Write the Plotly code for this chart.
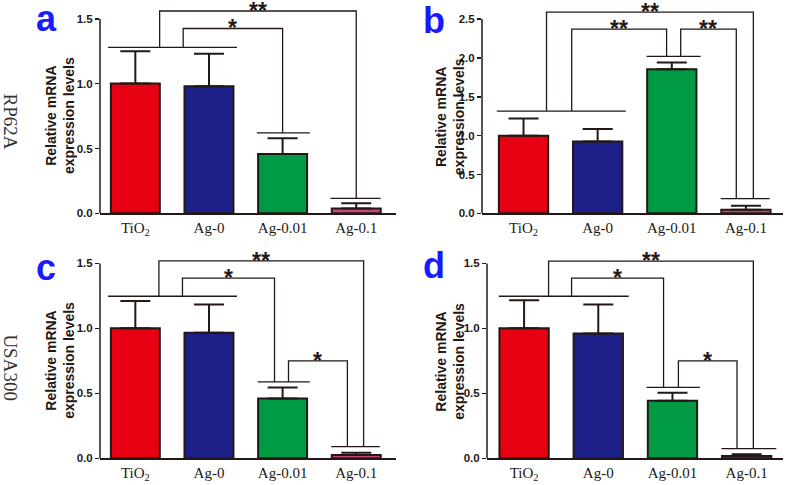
import plotly.graph_objects as go

# ---------------- data ----------------
categories = ["TiO<sub>2</sub>", "Ag-0", "Ag-0.01", "Ag-0.1"]
bar_colors = ["#e60012", "#1d2088", "#009944", "#c9457f"]

# panel a: RP62A, gene 1
a_mean = [1.00, 0.98, 0.457, 0.038]
a_err = [0.25, 0.25, 0.122, 0.040]
# panel b: RP62A, gene 2
b_mean = [1.00, 0.924, 1.855, 0.047]
b_err = [0.22, 0.16, 0.085, 0.051]
# panel c: USA300, gene 1
c_mean = [1.00, 0.966, 0.46, 0.025]
c_err = [0.21, 0.218, 0.085, 0.018]
# panel d: USA300, gene 2
d_mean = [1.00, 0.96, 0.443, 0.018]
d_err = [0.217, 0.224, 0.061, 0.012]

y_tick_max = {"a": 1.5, "b": 2.5, "c": 1.5, "d": 1.5}

# significance: group caps (x0, x1, y) and brackets (xL, yL, xR, yR, top, label)
a_caps = [(-0.37, 1.38, 1.28), (1.65, 2.37, 0.62), (2.65, 3.33, 0.115)]
a_brackets = [(0.65, 1.28, 2.0, 0.62, 1.425, "*"),
              (0.33, 1.28, 3.0, 0.115, 1.56, "**")]
b_caps = [(-0.36, 1.38, 1.316), (1.66, 2.39, 2.02), (2.66, 3.32, 0.19)]
b_brackets = [(0.65, 1.316, 1.93, 2.02, 2.37, "**"),
              (2.12, 2.02, 2.87, 0.19, 2.37, "**"),
              (0.31, 1.316, 3.10, 0.19, 2.59, "**")]
c_caps = [(-0.37, 1.38, 1.247), (1.66, 2.37, 0.588), (2.66, 3.32, 0.089)]
c_brackets = [(0.64, 1.247, 1.89, 0.588, 1.386, "*"),
              (2.08, 0.588, 2.88, 0.089, 0.75, "*"),
              (0.32, 1.247, 3.10, 0.089, 1.52, "**")]
d_caps = [(-0.34, 1.41, 1.247), (1.65, 2.37, 0.545), (2.66, 3.40, 0.074)]
d_brackets = [(0.64, 1.247, 1.88, 0.545, 1.386, "*"),
              (2.08, 0.545, 2.87, 0.074, 0.75, "*"),
              (0.33, 1.247, 3.09, 0.074, 1.518, "**")]

row_labels = ["RP62A", "USA300"]
y_title = "Relative mRNA<br>expression levels"

# ---------------- layout helpers ----------------
W, H = 787, 485
DARK = "#231815"


def fx(p):
    return p / W


def fy(p):
    return 1 - p / H


panels = [
    dict(key="a", mean=a_mean, err=a_err, caps=a_caps, br=a_brackets,
         xl=100, xr=396, xrange=[-0.48, 3.54], y0=216, yt=19, top=2,
         title_x=60, letter=(46, 19)),
    dict(key="b", mean=b_mean, err=b_err, caps=b_caps, br=b_brackets,
         xl=482, xr=783, xrange=[-0.56, 3.50], y0=216, yt=19.3, top=2,
         title_x=450, letter=(434, 21)),
    dict(key="c", mean=c_mean, err=c_err, caps=c_caps, br=c_brackets,
         xl=100, xr=396, xrange=[-0.48, 3.54], y0=464, yt=266.7, top=250,
         title_x=60, letter=(46, 271)),
    dict(key="d", mean=d_mean, err=d_err, caps=d_caps, br=d_brackets,
         xl=487, xr=783, xrange=[-0.50, 3.49], y0=464, yt=266.7, top=250,
         title_x=450, letter=(434, 269)),
]

fig = go.Figure()
annotations = []
shapes = []
xpos = list(range(len(categories)))

for i, p in enumerate(panels):
    n = "" if i == 0 else str(i + 1)
    xa, ya = "x" + n, "y" + n
    tmax = y_tick_max[p["key"]]
    scale = (p["y0"] - p["yt"]) / tmax
    ytop = (p["y0"] - p["top"]) / scale

    fig.add_trace(go.Bar(
        x=xpos, y=p["mean"], width=0.665,
        marker=dict(color=bar_colors, line=dict(color=DARK, width=2)),
        error_y=dict(type="data", array=p["err"], arrayminus=[0] * 4,
                     symmetric=False, color=DARK, thickness=2, width=15),
        xaxis=xa, yaxis=ya, showlegend=False, hoverinfo="skip"))

    for (x0, x1, y) in p["caps"]:
        fig.add_trace(go.Scatter(
            x=[x0, x1], y=[y, y], mode="lines",
            line=dict(color=DARK, width=1.3),
            xaxis=xa, yaxis=ya, showlegend=False, hoverinfo="skip"))
    for (xL, yL, xR, yR, top, lab) in p["br"]:
        fig.add_trace(go.Scatter(
            x=[xL, xL, xR, xR], y=[yL, top, top, yR], mode="lines",
            line=dict(color=DARK, width=1.3),
            xaxis=xa, yaxis=ya, showlegend=False, hoverinfo="skip"))
        annotations.append(dict(
            x=(xL + xR) / 2, y=top, xref=xa, yref=ya, text=lab,
            showarrow=False, yanchor="middle", xanchor="center", yshift=0,
            font=dict(family="Liberation Sans, Arial", size=23,
                      color=DARK, weight="bold")))

    dom_x = [fx(p["xl"]), fx(p["xr"])]
    dom_y = [fy(p["y0"]), fy(p["top"])]
    fig.update_layout(**{
        ("xaxis" + n): dict(
            domain=dom_x, range=p["xrange"], anchor=ya,
            tickmode="array", tickvals=xpos, ticktext=categories,
            showline=True, linecolor=DARK, linewidth=1.5, ticks="",
            showgrid=False, zeroline=False,
            tickfont=dict(family="Liberation Serif, Times New Roman",
                          size=15, color=DARK)),
        ("yaxis" + n): dict(
            domain=dom_y, range=[0, ytop], anchor=xa,
            tickmode="array",
            tickvals=[k * 0.5 for k in range(int(round(tmax / 0.5)) + 1)],
            tickformat=".1f", showline=False, ticks="outside", ticklen=4,
            tickwidth=1.5, tickcolor=DARK, showgrid=False, zeroline=False,
            tickfont=dict(family="Liberation Sans, Arial", size=11.5,
                          color=DARK, weight="bold")),
    })
    shapes.append(dict(type="line", xref=xa + " domain", yref=ya,
                       x0=0, x1=0, y0=0, y1=tmax,
                       line=dict(color=DARK, width=1.5)))
    annotations.append(dict(
        x=fx(p["title_x"]), y=fy((p["y0"] + p["yt"]) / 2), xref="paper",
        yref="paper", text=y_title, textangle=-90, showarrow=False,
        xanchor="center", yanchor="middle",
        font=dict(family="Liberation Sans, Arial", size=14, color=DARK,
                  weight="bold")))
    annotations.append(dict(
        x=fx(p["letter"][0]), y=fy(p["letter"][1]), xref="paper", yref="paper",
        text=p["key"], showarrow=False, xanchor="center", yanchor="middle",
        font=dict(family="Liberation Sans, Arial", size=36, color="#1a1aff",
                  weight="bold")))

for lab, ypx in zip(row_labels, [123, 372]):
    annotations.append(dict(
        x=fx(11), y=fy(ypx), xref="paper", yref="paper", text=lab,
        textangle=90, showarrow=False, xanchor="center", yanchor="middle",
        font=dict(family="Liberation Serif, Times New Roman", size=19,
                  color="#333333")))

fig.update_layout(
    width=W, height=H, margin=dict(l=0, r=0, t=0, b=0),
    paper_bgcolor="white", plot_bgcolor="white",
    annotations=annotations, shapes=shapes, bargap=0,
)

fig.write_html("out.html",
               config={"displayModeBar": False, "staticPlot": True},
               post_script="document.body.style.margin='0';"
                           "document.body.style.overflow='hidden';")
